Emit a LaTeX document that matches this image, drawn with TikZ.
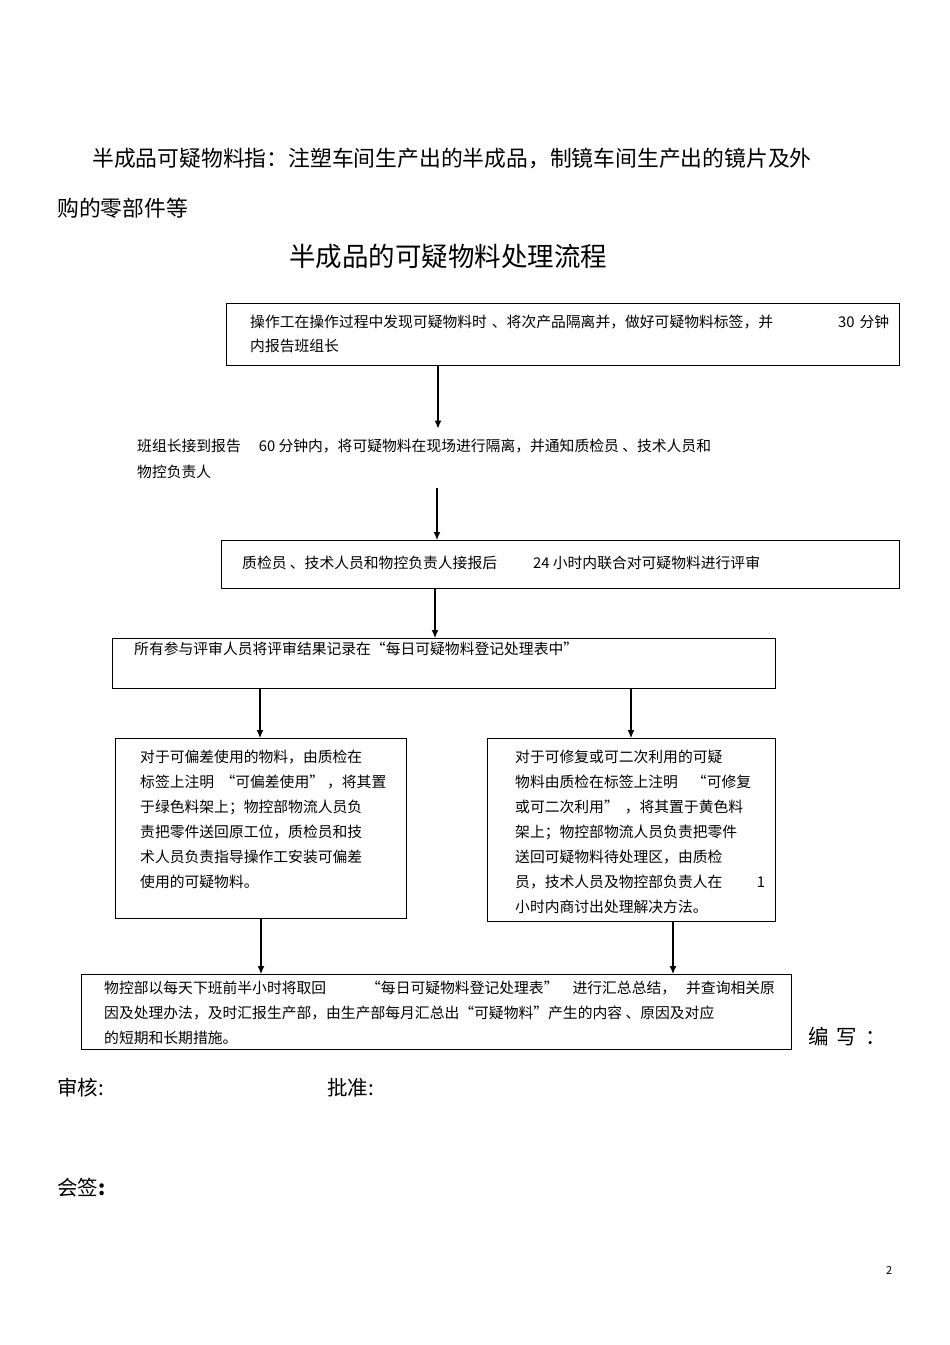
\documentclass[tikz,border=0pt]{standalone}
\usepackage{fontspec}
\setmainfont{Noto Sans CJK SC}
\usetikzlibrary{arrows.meta}
\tikzset{>={Latex[length=8pt,width=7pt]}}
\tikzset{
  box/.style  = {draw, line width=1.1pt, inner sep=0pt, anchor=north west},
  txt/.style  = {anchor=north west, inner sep=0pt, align=left,
                 font=\fontsize{14.8}{25}\selectfont},
  big/.style  = {anchor=north west, inner sep=0pt, font=\fontsize{20.5}{30}\selectfont},
  flow/.style = {->, line width=1.1pt}
}

\begin{document}
\begin{tikzpicture}[x=1pt,y=-1pt]
  \useasboundingbox (0,0) rectangle (950,1345);
  % heading
  \node[big, font=\fontsize{21.8}{30}\selectfont] (intro) at (92,147.5)
    {半成品可疑物料指：注塑车间生产出的半成品，制镜车间生产出的镜片及外};
  \node[big, font=\fontsize{21.8}{30}\selectfont] (introb) at (57,197.5) {购的零部件等};
  \node[big, font=\fontsize{26.5}{30}\selectfont] (title) at (289,244) {半成品的可疑物料处理流程};
  % boxes
  \node[box, minimum width=673, minimum height=62]  (report)  at (226,303) {};
  \node[box, minimum width=678, minimum height=48]  (check)   at (221,540) {};
  \node[box, minimum width=663, minimum height=50]  (record)  at (112,638) {};
  \node[box, minimum width=291, minimum height=180] (deviate) at (115,738) {};
  \node[box, minimum width=288, minimum height=183] (repair)  at (487,738) {};
  \node[box, minimum width=710, minimum height=75]  (summary) at (81,974) {};
  % texts
  \node[txt, text width=639, font=\fontsize{14.8}{24}\selectfont] (reporttext) at (250,314.5)
    {操作工在操作过程中发现可疑物料时 、将次产品隔离并，做好可疑物料标签，并\hfill 30 分钟\\
     内报告班组长};
  \node[txt, font=\fontsize{14.8}{26}\selectfont] (note) at (137,438.5)
    {班组长接到报告\hspace{18pt}60 分钟内，将可疑物料在现场进行隔离，并通知质检员 、技术人员和\\
     物控负责人};
  \node[txt] (checktext) at (242,555.5)
    {质检员 、技术人员和物控负责人接报后\hspace{36pt}24 小时内联合对可疑物料进行评审};
  \node[txt] (recordtext) at (134,641.5)
    {所有参与评审人员将评审结果记录在“每日可疑物料登记处理表中”};
  \node[txt] (deviatetext) at (140,749.5)
    {对于可偏差使用的物料，由质检在\\
     标签上注明 \hspace{3pt}“可偏差使用”\hspace{3pt}，将其置\\
     于绿色料架上；物控部物流人员负\\
     责把零件送回原工位，质检员和技\\
     术人员负责指导操作工安装可偏差\\
     使用的可疑物料。};
  \node[txt, text width=250] (repairtext) at (515,749.5)
    {对于可修复或可二次利用的可疑\\
     物料由质检在标签上注明\hspace{14pt}“可修复\\
     或可二次利用”\hspace{6pt}，将其置于黄色料\\
     架上；物控部物流人员负责把零件\\
     送回可疑物料待处理区，由质检\\
     员，技术人员及物控部负责人在\hfill 1\\
     小时内商讨出处理解决方法。};
  \node[txt] (summarytext) at (104,980.5)
    {物控部以每天下班前半小时将取回\hspace{40pt}“每日可疑物料登记处理表”\hspace{14pt}进行汇总总结，\hspace{10pt}并查询相关原\\
     因及处理办法，及时汇报生产部，由生产部每月汇总出“可疑物料”产生的内容 、原因及对应\\
     的短期和长期措施。};
  % signatures
  \node[big] (writer)  at (808,1027) {编\hspace{8pt}写\hspace{8pt}：};
  \node[big] (audit)   at (57,1078)  {审核:};
  \node[big] (approve) at (327,1078) {批准:};
  \node[big] (sign)    at (57,1178)  {会签\textbf{:}};
  \node[anchor=north west, inner sep=0pt, font=\fontsize{11}{13}\selectfont] (page) at (886,1266) {2};
  % arrow columns
  \coordinate (xa) at (438,0);
  \coordinate (xb) at (437,0);
  \coordinate (xc) at (435,0);
  \coordinate (xd) at (260,0);
  \coordinate (xe) at (631,0);
  \coordinate (xf) at (261,0);
  \coordinate (xg) at (673,0);
  % arrows
  \draw[flow] (report.south -| xa) -- ([yshift=10pt]note.north -| xa);
  \draw[flow] ([yshift=-9pt]note.south -| xb) -- (check.north -| xb);
  \draw[flow] (check.south -| xc) -- (record.north -| xc);
  \draw[flow] (record.south -| xd) -- (deviate.north -| xd);
  \draw[flow] (record.south -| xe) -- (repair.north -| xe);
  \draw[flow] (deviate.south -| xf) -- (summary.north -| xf);
  \draw[flow] (repair.south -| xg) -- (summary.north -| xg);
\end{tikzpicture}
\end{document}
